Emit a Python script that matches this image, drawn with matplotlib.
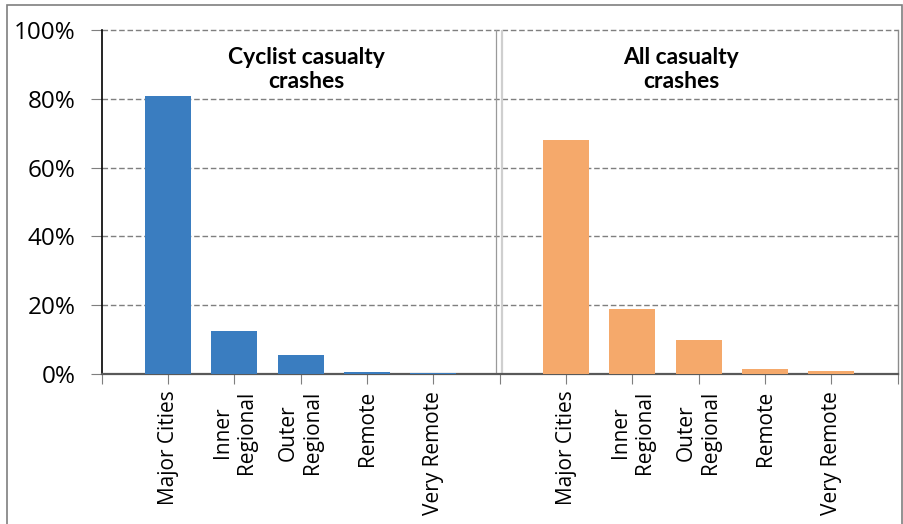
import matplotlib.pyplot as plt
from matplotlib.patches import Rectangle

# data (share of crashes by remoteness area, %)
categories = ["Major Cities", "Inner\nRegional", "Outer\nRegional", "Remote", "Very Remote"]
cyclist = [80.9, 12.4, 5.6, 0.5, 0.15]
all_crashes = [68.0, 19.0, 9.9, 1.5, 1.0]
group_titles = ["Cyclist casualty\ncrashes", "All casualty\ncrashes"]

blue = "#3A7DC0"
orange = "#F5A96B"

fig = plt.figure(figsize=(9.04, 5.24), dpi=100)
ax = fig.add_axes([0.1125, 0.2863, 0.8805, 0.6564])

# positions: 0..4 cyclist, 5 = gap, 6..10 all crashes
x_cyc = list(range(5))
x_all = [i + 6 for i in range(5)]

ax.bar(x_cyc, cyclist, width=0.69, color=blue, zorder=3)
ax.bar(x_all, all_crashes, width=0.69, color=orange, zorder=3)

ax.set_xlim(-1, 11)
ax.set_ylim(0, 100)

# gridlines
ax.set_yticks([0, 20, 40, 60, 80, 100])
ax.set_yticklabels([f"{v}%" for v in [0, 20, 40, 60, 80, 100]],
                   fontsize=17.5, family="Open Sans")
for v in [20, 40, 60, 80, 100]:
    ax.axhline(v, color="#7f7f7f", lw=1, ls=(0, (4, 2)), zorder=1, clip_on=False)

# separator between the two groups
ax.axvline(4.94, color="#9a9a9a", lw=0.9, zorder=2)
ax.axvline(5.03, color="#cfcfcf", lw=1.6, zorder=2)

# x ticks at every slot, labels only on bars
ax.set_xticks(range(-1, 12))
ax.set_xticklabels([""] + categories + [""] + categories + [""],
                   rotation=90, fontsize=15, family="Open Sans",
                   ha="center", va="top", multialignment="center")
ax.tick_params(axis="x", length=7, color="#7f7f7f", pad=5)
ax.tick_params(axis="y", length=8, color="#7f7f7f", pad=11, direction="out")

ax.spines["top"].set_visible(False)
ax.spines["left"].set_color("#000000")
ax.spines["left"].set_linewidth(1.2)
ax.spines["bottom"].set_color("#595959")
ax.spines["bottom"].set_linewidth(1.6)
ax.spines["right"].set_color("#8c8c8c")
ax.spines["right"].set_linewidth(1.0)

# group titles
ax.text(2.08, 88.5, group_titles[0], ha="center", va="center", fontsize=16.5,
        fontweight="bold", family="Lato", linespacing=1.2)
ax.text(7.74, 88.5, group_titles[1], ha="center", va="center", fontsize=16.5,
        fontweight="bold", family="Lato", linespacing=1.2)

# outer chart frame
fig.patches.append(Rectangle((7 / 904, -0.01), 895 / 904, 1 - 5 / 524 + 0.01,
                             transform=fig.transFigure, fill=False,
                             edgecolor="#7f7f7f", lw=1.2))

fig.savefig("out.png", dpi=100)
